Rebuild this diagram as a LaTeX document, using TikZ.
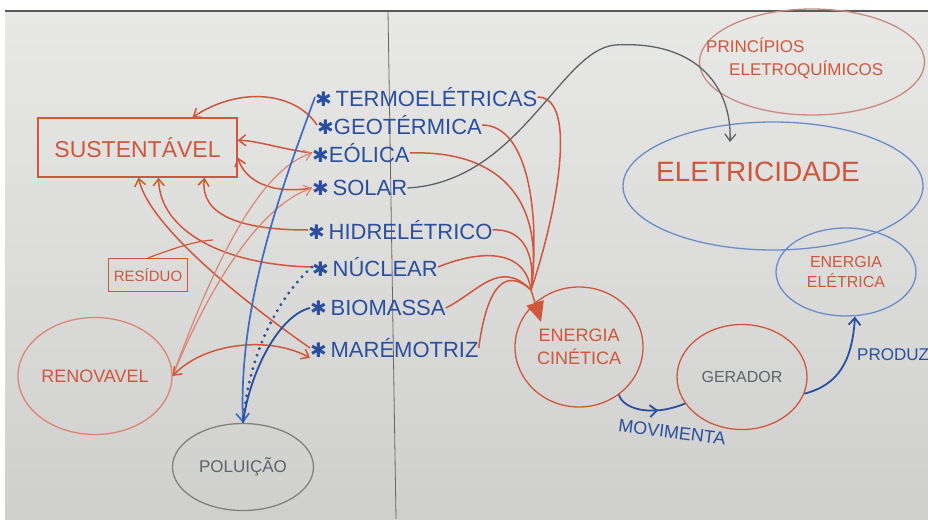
\documentclass[tikz,border=0pt]{standalone}
\usepackage{fontspec}
\setmainfont{Liberation Sans}
\newfontfamily\symfont{DejaVu Sans}
\usetikzlibrary{arrows.meta,shapes.geometric,decorations.markings}
\definecolor{mred}{HTML}{D0573C}
\definecolor{lred}{HTML}{DC8572}
\definecolor{pred}{HTML}{C98A80}
\definecolor{mblue}{HTML}{2B4F9F}
\definecolor{lblue}{HTML}{3D6CC0}
\definecolor{eblue}{HTML}{6A8DC8}
\definecolor{mgray}{HTML}{5E6369}
\definecolor{board}{HTML}{E8E8E6}
\definecolor{boardlow}{HTML}{CFCFCE}
\newcommand{\hstar}{{\symfont\fontsize{20}{22}\selectfont ✱}}
\begin{document}
\begin{tikzpicture}[x=1pt,y=-1pt,
  listitem/.style={anchor=west, inner sep=0pt, text=mblue, font=\fontsize{22}{24}\selectfont},
  redcurve/.style={draw=mred, line width=1.5pt},
  redarrow/.style={draw=mred, line width=1.5pt, -{Straight Barb[length=7pt,width=11pt]}},
  lredarrow/.style={draw=lred, line width=1.2pt, -{Straight Barb[length=7pt,width=11pt]}},
  bluearrow/.style={draw=lblue, line width=1.7pt, -{Straight Barb[length=8pt,width=13pt]}},
  midarrow/.style={draw=mblue, line width=1.8pt, postaction={decorate},
    decoration={markings, mark=at position 0.62 with {\arrow{Straight Barb[length=7pt,width=12pt]}}}},
  bubble/.style={ellipse, inner sep=0pt, line width=1.3pt}
]
\useasboundingbox (0,0) rectangle (928,519);
% board
\fill[white] (0,0) rectangle (928,519);
\shade[top color=board, bottom color=boardlow] (5,11) rectangle (928,519);
\draw[gray!70!black, line width=1.5pt] (5,11) -- (928,11);
\draw[gray!80!black, line width=0.8pt] (388,11) -- (396,519);

% nodes
\node[draw=mred, line width=1.3pt, minimum width=199pt, minimum height=59pt, inner sep=0pt,
  text=mred, font=\fontsize{23}{25}\selectfont] (sust) at (137.5,147.5) {SUSTENTÁVEL};
\node[draw=mred, line width=1.2pt, minimum width=79pt, minimum height=33pt, inner sep=0pt,
  text=mred, font=\fontsize{15}{17}\selectfont] (res) at (148,275) {RESÍDUO};
\node[bubble, draw=lred, minimum width=154pt, minimum height=117pt,
  text=mred, font=\fontsize{18}{20}\selectfont] (renov) at (95,376) {RENOVAVEL};
\node[bubble, draw=gray, minimum width=141pt, minimum height=87pt,
  text=mgray, font=\fontsize{17}{19}\selectfont] (polu) at (243,467) {POLUIÇÃO};

\node[listitem] (t1) at (315,97) {\hstar\,TERMOELÉTRICAS};
\node[listitem] (t2) at (317,125) {\hstar GEOTÉRMICA};
\node[listitem] (t3) at (312,153) {\hstar EÓLICA};
\node[listitem] (t4) at (312,188) {\hstar\,SOLAR};
\node[listitem] (t5) at (308,230) {\hstar\,HIDRELÉTRICO};
\node[listitem] (t6) at (312,267) {\hstar\,NÚCLEAR};
\node[listitem] (t7) at (310,308) {\hstar\,BIOMASSA};
\node[listitem] (t8) at (310,348) {\hstar\,MARÉMOTRIZ};

\node[bubble, draw=mred, minimum width=128pt, minimum height=120pt, align=center,
  text=mred, font=\fontsize{18}{23}\selectfont] (cin) at (579,347) {ENERGIA\\CINÉTICA};
\node[bubble, draw=mred, minimum width=130pt, minimum height=105pt,
  text=mgray, font=\fontsize{16}{18}\selectfont] (ger) at (742,377) {GERADOR};
\node[bubble, draw=eblue, minimum width=140pt, minimum height=88pt, align=center,
  text=mred, font=\fontsize{16}{20}\selectfont] (ele) at (846,272) {ENERGIA\\ELÉTRICA};
\node[bubble, draw=eblue, minimum width=300pt, minimum height=128pt] (elet) at (773,186) {};
\node[text=mred, font=\fontsize{28}{30}\selectfont, inner sep=0pt] (eletT) at (758,172) {ELETRICIDADE};
\node[bubble, draw=pred, minimum width=225pt, minimum height=106pt] (princ) at (812,62) {};
\node[anchor=west, align=left, inner sep=0pt, text=mred, font=\fontsize{17}{23}\selectfont]
  (princT) at (706,58) {PRINCÍPIOS\\\hspace*{23pt}ELETROQUÍMICOS};

\node[text=mblue, font=\fontsize{18}{20}\selectfont, rotate=-7, inner sep=0pt] (mov) at (672,432) {MOVIMENTA};
\node[text=mblue, font=\fontsize{17}{19}\selectfont, anchor=west, inner sep=0pt] (prod) at (857,355) {PRODUZ};

\coordinate (conv) at (531,290);
\coordinate (cintip) at (541,322);
\coordinate (elettip) at (730,142);
\coordinate (resend) at (213,240);

% red curves into ENERGIA CINETICA
\draw[redcurve] (t1.east) .. controls (580,97) and (555,220) .. (conv);
\draw[redcurve] (t2.east) .. controls (530,125) and (540,220) .. (conv);
\draw[redcurve] (t3.east) .. controls (500,150) and (545,200) .. (conv);
\draw[redcurve] (t5.east) .. controls (528,228) and (535,262) .. (conv);
\draw[redcurve] (t6.east) .. controls (480,250) and (525,248) .. (conv);
\draw[redcurve] (t7.east) .. controls (478,292) and (500,258) .. (conv);
\draw[redcurve] (t8.east) .. controls (485,300) and (500,262) .. (conv);
\draw[draw=mred, line width=1.5pt, -{Triangle[length=20pt,width=18pt]}] (conv) -- (cintip);

% solar -> eletricidade
\draw[draw=mgray, line width=1.3pt, -{Straight Barb[length=7pt,width=11pt]}]
  (t4.east) .. controls (520,182) and (560,50) .. (615,45)
  .. controls (700,40) and (732,90) .. (elettip);

% red arrows into SUSTENTAVEL
\draw[redarrow] (t2.west) .. controls (295,92) and (240,86) .. ([xshift=55pt]sust.north);
\draw[redarrow] (t3.west) .. controls (285,150) and (255,140) .. ([yshift=7pt]sust.east);
\draw[redarrow] (t4.west) .. controls (270,195) and (245,180) .. ([yshift=-10pt]sust.east);
\draw[redarrow] (t5.west) .. controls (240,230) and (200,215) .. ([xshift=67pt]sust.south);
\draw[redarrow] (t6.west) .. controls (225,265) and (160,232) .. ([xshift=21pt]sust.south);
\draw[redarrow] (t8.west) .. controls (230,292) and (148,222) .. ([xshift=1pt]sust.south);

% renovavel links
\draw[lredarrow] (renov.east) .. controls (215,260) and (260,170) .. (t3.west);
\draw[lredarrow] (renov.east) .. controls (212,280) and (262,205) .. (t4.west);
\draw[draw=mred, line width=1.5pt, {Straight Barb[length=7pt,width=11pt]}-{Straight Barb[length=7pt,width=11pt]}]
  (renov.east) .. controls (205,342) and (270,336) .. (t8.south west);
\draw[draw=mred, line width=1.2pt] (res.north) .. controls (175,248) and (195,241) .. (resend);

% to POLUICAO
\draw[bluearrow] (t1.west) .. controls (285,180) and (238,300) .. (polu.north);
\draw[draw=mblue, line width=3.2pt, dash pattern=on 0pt off 7pt, line cap=round] (t6.west) .. controls (275,300) and (248,360) .. (polu.north);
\draw[draw=mblue, line width=1.8pt] (t7.west) .. controls (280,315) and (250,370) .. (polu.north);

% cinetica -> gerador -> eletrica
\draw[midarrow] (cin.-50) .. controls (622,408) and (650,418) .. (ger.205);
\draw[draw=mblue, line width=1.8pt, -{Straight Barb[length=7pt,width=12pt]}]
  (ger.-15) .. controls (838,385) and (852,362) .. ([xshift=9pt]ele.south);
\end{tikzpicture}
\end{document}
